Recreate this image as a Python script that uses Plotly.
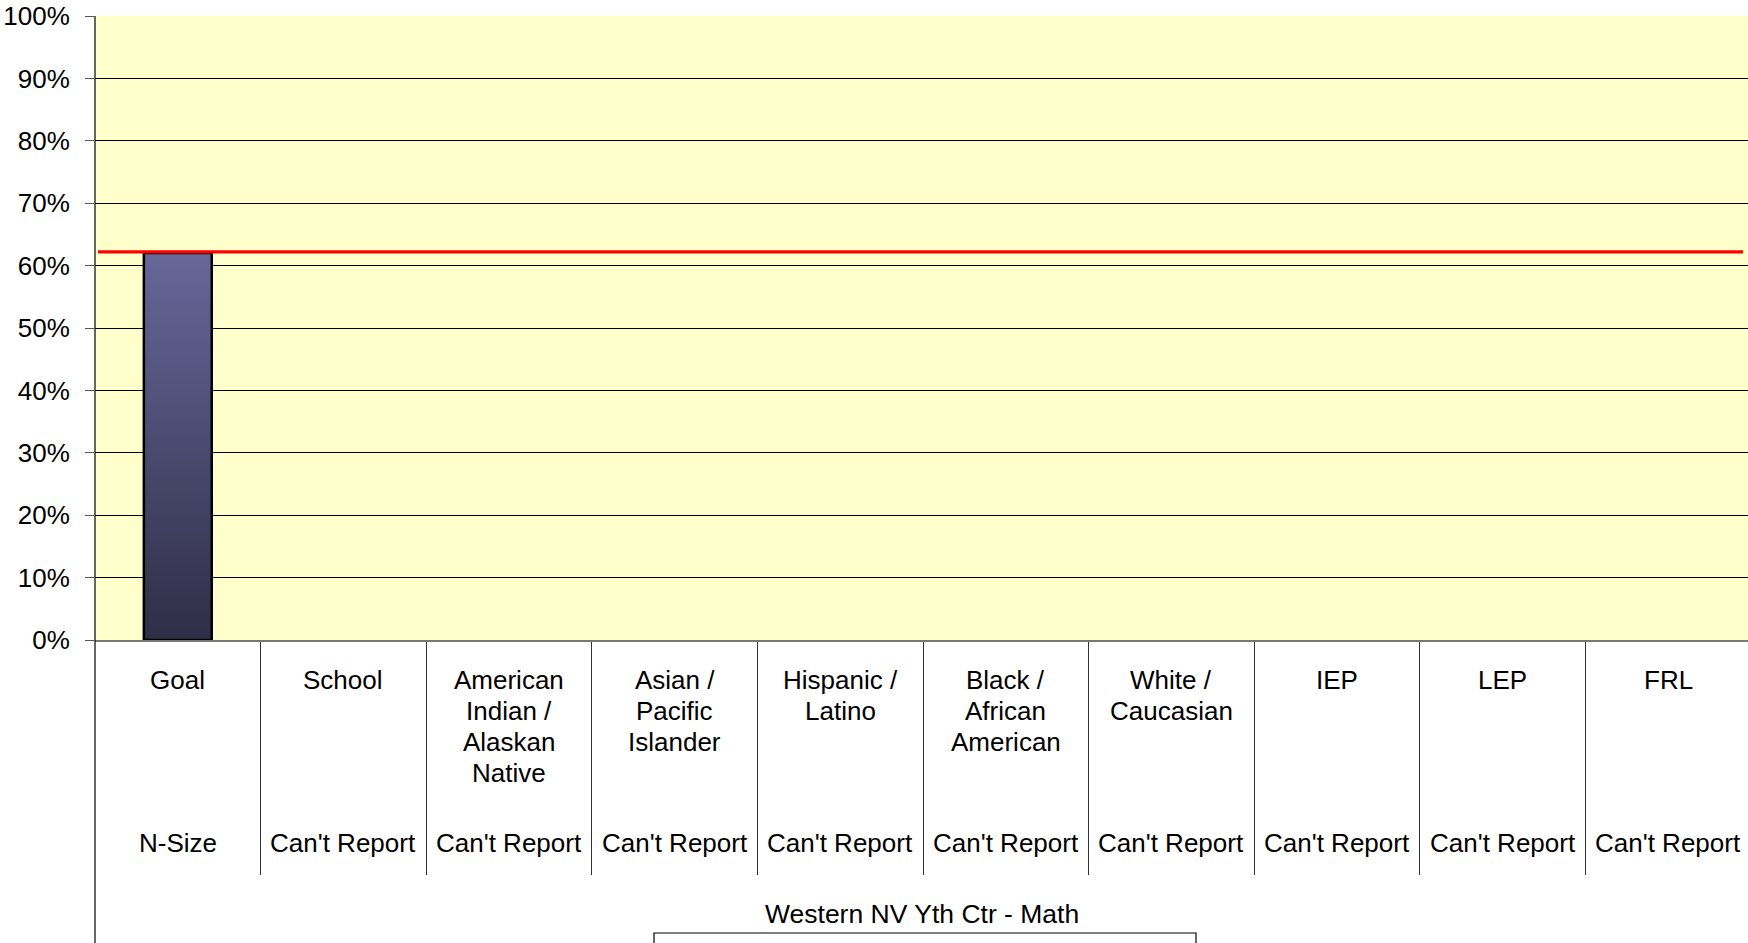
import plotly.graph_objects as go

# ---- data ----
categories = ["Goal", "School", "American<br>Indian /<br>Alaskan<br>Native", "Asian /<br>Pacific<br>Islander",
              "Hispanic /<br>Latino", "Black /<br>African<br>American", "White /<br>Caucasian",
              "IEP", "LEP", "FRL"]
n_labels = ["N-Size", "Can't Report", "Can't Report", "Can't Report", "Can't Report",
            "Can't Report", "Can't Report", "Can't Report", "Can't Report", "Can't Report"]
values = [62, None, None, None, None, None, None, None, None, None]
goal_value = 62.2
y_ticks = [0, 10, 20, 30, 40, 50, 60, 70, 80, 90, 100]
y_tick_labels = ["0%", "10%", "20%", "30%", "40%", "50%", "60%", "70%", "80%", "90%", "100%"]
chart_title = "Western NV Yth Ctr - Math"

# ---- layout geometry (pixels) ----
W, H = 1748, 943
L, T = 95, 16
PLOT_H = 624
B = H - T - PLOT_H
CAT_W = 165.6
x_max = -0.5 + (W - L) / CAT_W
BAR_W = 0.41
FONT = "Liberation Sans, Arial, sans-serif"


def py(p):  # pixel y -> paper y
    return (T + PLOT_H - p) / PLOT_H


def px(p):  # pixel x -> paper x
    return (p - L) / (W - L)


fig = go.Figure()

# bar with vertical gradient, built from the data values
for i, v in enumerate(values):
    if v is None:
        continue
    fig.add_trace(go.Scatter(
        x=[i - BAR_W / 2, i - BAR_W / 2, i + BAR_W / 2, i + BAR_W / 2, i - BAR_W / 2],
        y=[0, v, v, 0, 0],
        mode="lines", fill="toself",
        fillgradient=dict(type="vertical",
                          colorscale=[[0, "#2e2e46"], [0.5, "#4a4a70"], [1, "#67679a"]]),
        line=dict(color="black", width=2.5),
        showlegend=False, hoverinfo="skip",
    ))

# goal line
fig.add_shape(type="line", xref="paper", yref="y", x0=px(98), x1=px(1743),
              y0=goal_value, y1=goal_value, line=dict(color="#ff0000", width=3.2), layer="above")

annotations = []
for i, (cat, nl) in enumerate(zip(categories, n_labels)):
    for k, line in enumerate(cat.split("<br>")):
        annotations.append(dict(x=i, xref="x", y=py(680 + k * 31), yref="paper",
                                text=line, showarrow=False, xanchor="center", yanchor="middle",
                                font=dict(family=FONT, size=26, color="black")))
    annotations.append(dict(x=i, xref="x", y=py(843), yref="paper",
                            text=nl, showarrow=False, xanchor="center", yanchor="middle",
                            font=dict(family=FONT, size=26, color="black")))
annotations.append(dict(x=px(922), xref="paper", y=py(914), yref="paper", text=chart_title,
                        showarrow=False, xanchor="center", yanchor="middle",
                        font=dict(family=FONT, size=26.5, color="black")))

shapes = [
    # y-axis line extended to bottom
    dict(type="line", xref="paper", yref="paper", x0=0, x1=0, y0=1, y1=py(H + 10),
         line=dict(color="black", width=1.2)),
    # legend box (cropped)
    dict(type="rect", xref="paper", yref="paper", x0=px(654), x1=px(1196),
         y0=py(933), y1=py(H + 20), line=dict(color="black", width=1.2)),
]
for s in shapes:
    fig.add_shape(**s)

fig.update_layout(
    width=W, height=H,
    margin=dict(l=L, r=0, t=T, b=B, pad=0),
    paper_bgcolor="white",
    plot_bgcolor="#ffffcc",
    font=dict(family=FONT, size=26, color="black"),
    annotations=annotations,
    xaxis=dict(range=[-0.5, x_max], showgrid=False, zeroline=False,
               tickvals=[i + 0.5 for i in range(len(categories) - 1)],
               ticks="outside", ticklen=233, tickwidth=1.2, tickcolor="#333333",
               showticklabels=False, showline=True, linecolor="#777777", linewidth=1.5),
    yaxis=dict(range=[0, 100], tickvals=y_ticks, ticktext=y_tick_labels,
               showgrid=True, gridcolor="black", gridwidth=1, zeroline=False,
               ticks="outside", ticklen=9, tickcolor="#555555", tickwidth=1.2,
               ticklabelstandoff=10,
               showline=False,
               tickfont=dict(family=FONT, size=26, color="black")),
    showlegend=False,
)

fig.write_html("out.html", config={"displayModeBar": False},
               post_script="document.body.style.margin='0';document.body.style.overflow='hidden';")
